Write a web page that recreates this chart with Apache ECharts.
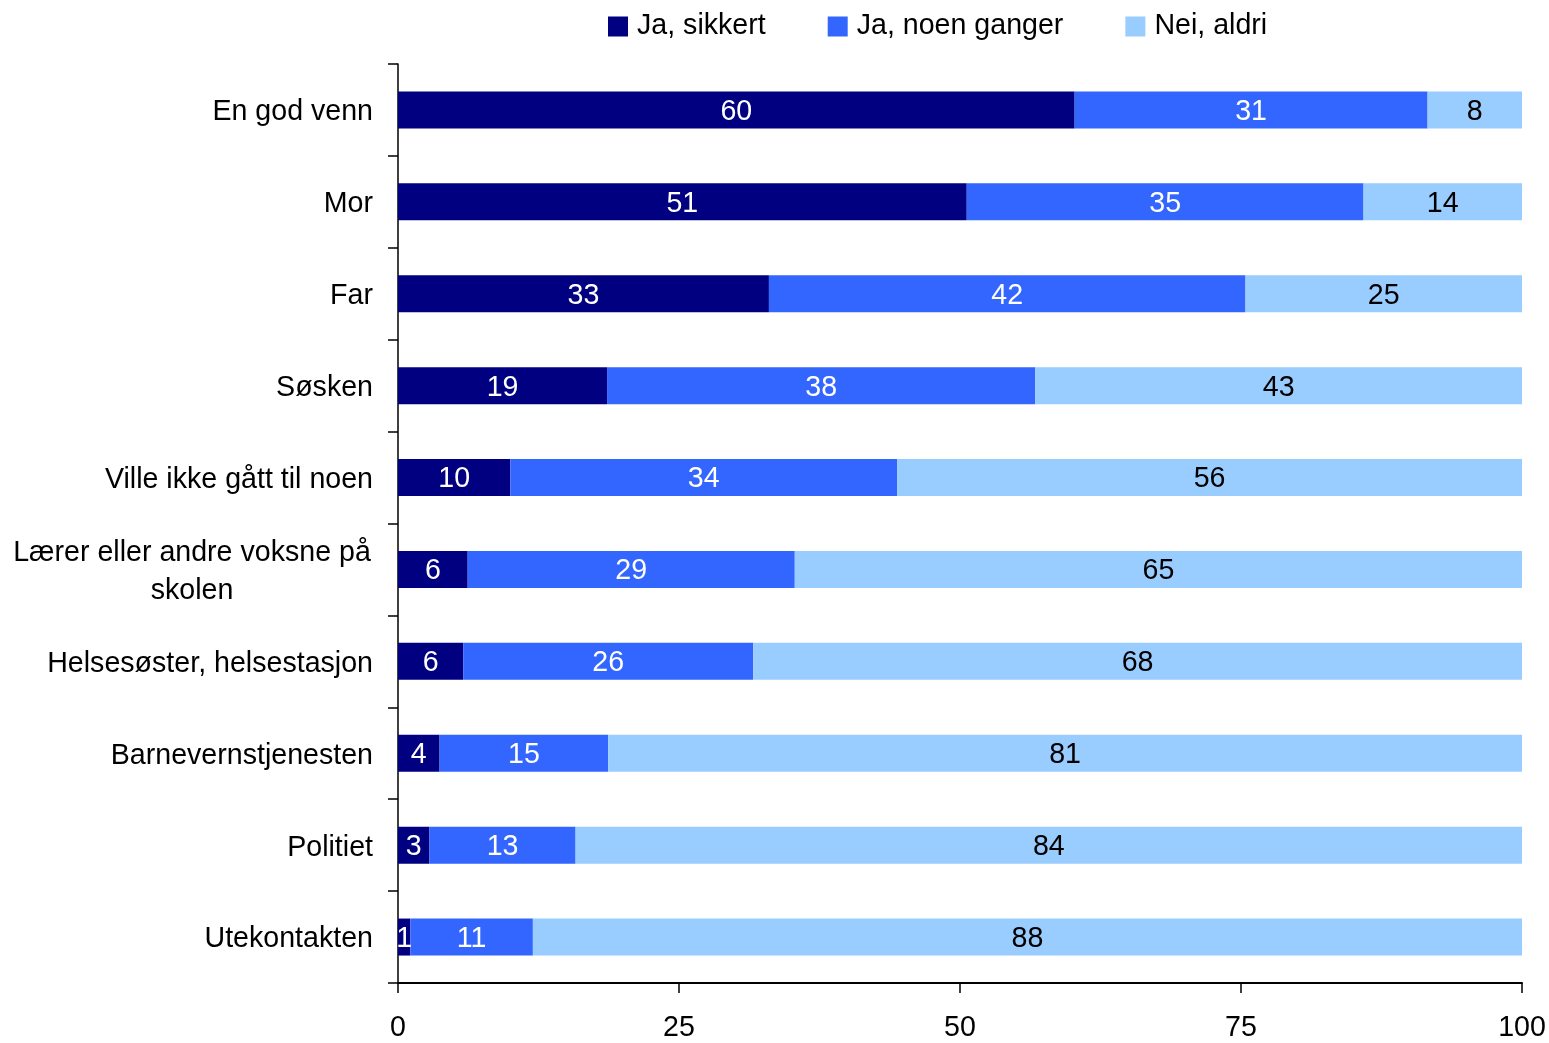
<!DOCTYPE html>
<html>
<head>
<meta charset="utf-8">
<script src="https://cdn.jsdelivr.net/npm/echarts@6/dist/echarts.min.js"></script>
<style>html,body{margin:0;padding:0;background:#fff}#c{width:1549px;height:1043px}</style>
</head>
<body>
<div id="c"></div>
<script>
const categories = ['En god venn','Mor','Far','Søsken','Ville ikke gått til noen','Lærer eller andre voksne på\nskolen','Helsesøster, helsestasjon','Barnevernstjenesten','Politiet','Utekontakten'];
const seriesNames = ['Ja, sikkert','Ja, noen ganger','Nei, aldri'];
const jaSikkert = [60.2, 50.6, 33.0, 18.6, 10.0, 6.2, 5.8, 3.7, 2.8, 1.1];
const jaNoenGanger = [31.4, 35.3, 42.4, 38.1, 34.4, 29.1, 25.8, 15.0, 13.0, 10.9];
const neiAldri = [8.4, 14.1, 24.6, 43.3, 55.6, 64.7, 68.4, 81.3, 84.2, 88.0];
const xTicks = [0, 25, 50, 75, 100];

const FONT = 'Liberation Sans, Arial, sans-serif';
const FS = 28.6;
const chart = echarts.init(document.getElementById('c'), null, {renderer:'canvas'});
const colors = ['#000080', '#3366FF', '#99CCFF'];
const labelColors = ['#ffffff', '#ffffff', '#000000'];
const data = [jaSikkert, jaNoenGanger, neiAldri];

chart.setOption({
  animation: false,
  backgroundColor: '#ffffff',
  textStyle: {fontFamily: FONT},
  legend: {
    top: 12, left: 608,
    padding: 0,
    itemWidth: 20, itemHeight: 20, itemGap: 62,
    icon: 'rect',
    textStyle: {fontSize: FS, color: '#000', fontFamily: FONT, padding: [0,0,0,4]},
    data: seriesNames
  },
  grid: {left: 398, right: 27, top: 64, bottom: 57, containLabel: false},
  xAxis: {
    type: 'value', min: xTicks[0], max: xTicks[xTicks.length-1], interval: 25,
    axisLine: {show: true, lineStyle: {color: '#000', width: 2}},
    axisTick: {show: true, length: 10, lineStyle: {color: '#000', width: 1.5}},
    axisLabel: {fontSize: FS, color: '#000', margin: 31, fontFamily: FONT},
    splitLine: {show: false}
  },
  yAxis: {
    type: 'category', data: categories, inverse: true,
    axisLine: {show: true, lineStyle: {color: '#000', width: 1.5}},
    axisTick: {show: true, length: 10, lineStyle: {color: '#000', width: 1.5}},
    axisLabel: {
      fontSize: FS, color: '#000', margin: 25, fontFamily: FONT,
      padding: [5, 0, 0, 0],
      formatter: function (v) {
        if (v.indexOf('\n') >= 0) return '{c|' + v + '}';
        return v;
      },
      rich: {c: {fontSize: FS, width: 362, align: 'center', lineHeight: 38, fontFamily: FONT, color: '#000'}}
    }
  },
  series: data.map((arr, i) => ({
    name: seriesNames[i], type: 'bar', stack: 'total', data: arr,
    barWidth: 37,
    itemStyle: {color: colors[i]},
    label: {
      show: true, position: 'inside', fontSize: FS, color: labelColors[i], fontFamily: FONT,
      offset: [0, 2],
      formatter: p => String(Math.round(p.value))
    }
  }))
});
</script>
</body>
</html>
